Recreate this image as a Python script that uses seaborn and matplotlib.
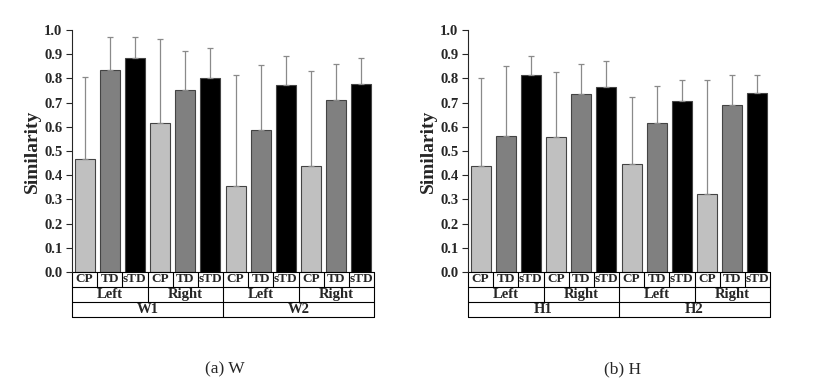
import numpy as np
import pandas as pd
import seaborn as sns
import matplotlib.pyplot as plt

sns.set_style("ticks")
plt.rcParams['font.family'] = ['Liberation Serif', 'DejaVu Serif']

# Data
groups = ["CP", "TD", "sTD"]
sides = ["Left", "Right"]
panel_w_sets = ["W1", "W2"]
panel_h_sets = ["H1", "H2"]

w_mean = [0.466, 0.834, 0.886, 0.615, 0.751, 0.802,
          0.356, 0.585, 0.774, 0.437, 0.711, 0.776]
w_upper = [0.806, 0.972, 0.971, 0.964, 0.912, 0.924,
           0.813, 0.854, 0.891, 0.831, 0.860, 0.886]

h_mean = [0.436, 0.561, 0.816, 0.556, 0.735, 0.766,
          0.447, 0.615, 0.708, 0.323, 0.692, 0.741]
h_upper = [0.801, 0.850, 0.891, 0.825, 0.860, 0.871,
           0.722, 0.768, 0.794, 0.794, 0.812, 0.813]

yticks = np.arange(0, 1.01, 0.1)
palette = {"CP": "#c0c0c0", "TD": "#808080", "sTD": "#000000"}


# Draws one panel: bars, one-sided error bars and the category table below
def draw_panel(ax, means, uppers, sets):
    n = len(means)
    df = pd.DataFrame({
        "pos": [str(i) for i in range(n)],
        "group": [groups[i % 3] for i in range(n)],
        "mean": means,
    })
    sns.barplot(data=df, x="pos", y="mean", hue="group", palette=palette,
                dodge=False, width=0.8, edgecolor="#444444", linewidth=0.8,
                legend=False, ax=ax)
    sd = np.array(uppers) - np.array(means)
    ax.errorbar(np.arange(n), means, yerr=[np.zeros(n), sd], fmt="none",
                ecolor="#8a8a8a", elinewidth=0.9, capsize=2, capthick=0.9)

    ax.set_xlim(-0.5, n - 0.5)
    ax.set_ylim(0, 1.0)
    ax.set_yticks(yticks)
    ax.set_yticklabels([f"{t:.1f}" for t in yticks], fontweight="bold", fontsize=10.5)
    ax.set_xticks([])
    ax.set_xlabel("")
    ax.set_ylabel("Similarity", fontweight="bold", fontsize=14, labelpad=2)
    ax.tick_params(axis="y", length=4, width=0.8, pad=3)
    for s in ["top", "right", "bottom"]:
        ax.spines[s].set_visible(False)
    ax.spines["left"].set_linewidth(0.8)

    # Table under the axis
    tr = ax.get_xaxis_transform()
    r = 15 / 242
    lw = 0.8
    kw = dict(transform=tr, clip_on=False, color="black", lw=lw)
    for k in range(4):
        ax.plot([-0.5, n - 0.5], [-k * r, -k * r], **kw)
    # vertical lines
    for i in range(n + 1):
        x = i - 0.5
        ax.plot([x, x], [0, -r], **kw)
    for i in range(0, n + 1, 3):
        x = i - 0.5
        ax.plot([x, x], [-r, -2 * r], **kw)
    for i in range(0, n + 1, 6):
        x = i - 0.5
        ax.plot([x, x], [-2 * r, -3 * r], **kw)
    tkw = dict(transform=tr, ha="center", va="center", fontweight="bold",
               clip_on=False)
    for i in range(n):
        ax.text(i, -0.5 * r, groups[i % 3], fontsize=9.5, **tkw)
    for j in range(n // 3):
        ax.text(3 * j + 1, -1.5 * r, sides[j % 2], fontsize=10.5, **tkw)
    for j in range(n // 6):
        ax.text(6 * j + 2.5, -2.5 * r, sets[j], fontsize=10.5, **tkw)


fig = plt.figure(figsize=(8.17, 3.92), dpi=100)
ax1 = fig.add_axes([72 / 817, 120 / 392, 302 / 817, 242 / 392])
ax2 = fig.add_axes([468 / 817, 120 / 392, 302 / 817, 242 / 392])

draw_panel(ax1, w_mean, w_upper, panel_w_sets)
draw_panel(ax2, h_mean, h_upper, panel_h_sets)

fig.text(225 / 817, 1 - 369 / 392, "(a) W", ha="center", va="center", fontsize=12.5)
fig.text(623 / 817, 1 - 369 / 392, "(b) H", ha="center", va="center", fontsize=12.5)

plt.savefig("out.png", dpi=100)
plt.close()
